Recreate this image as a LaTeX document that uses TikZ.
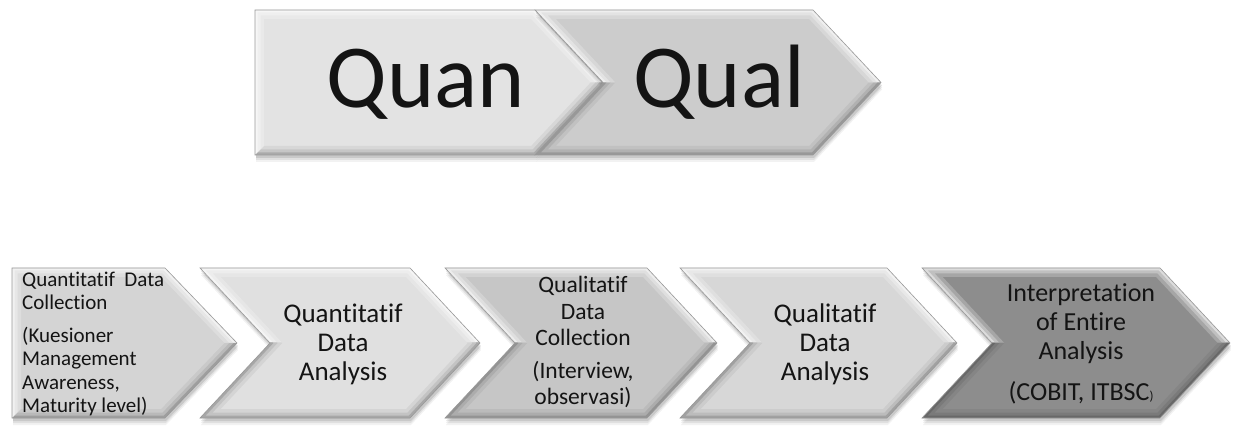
\documentclass[tikz,border=0pt]{standalone}
\usepackage{fontspec}
\setmainfont[Ligatures={NoCommon}]{Carlito}
\definecolor{cQuan}{HTML}{E3E3E3}
\definecolor{cQual}{HTML}{CCCCCC}
\definecolor{cStepA}{HTML}{D4D4D4}
\definecolor{cStepB}{HTML}{E0E0E0}
\definecolor{cStepC}{HTML}{C6C6C6}
\definecolor{cStepD}{HTML}{D7D7D7}
\definecolor{cStepE}{HTML}{8D8D8D}
% #1 = closed outline, #2 = face colour,
% #3 = region lit from above, #4 = region in shade
\newcommand\bevelchevron[4]{%
  % soft drop shadow
  \foreach \dy/\op in {7/0.05,5/0.07,3/0.10}{\fill[black,opacity=\op,shift={(1,\dy)}] #1;}
  \fill[#2] #1;
  \begin{scope}
    \clip #1;
    % light bevel
    \begin{scope}
      \clip #3;
      \foreach \w/\op in {18/0.22,11/0.30,5/0.45}{\draw[white,line width=\w,opacity=\op,line join=miter] #1;}
    \end{scope}
    % dark bevel
    \begin{scope}
      \clip #4;
      \foreach \w/\op in {18/0.05,11/0.08,5/0.14}{\draw[black,line width=\w,opacity=\op,line join=miter] #1;}
    \end{scope}
  \end{scope}
  \draw[black!40,line width=0.6,line join=miter] #1;
}
\begin{document}
\begin{tikzpicture}[x=1pt,y=-1pt,
  txt/.style={inner sep=0pt,anchor=base,text=black!92},
  bigtxt/.style={txt,font=\fontsize{90}{90}\selectfont},
  txtA/.style={txt,anchor=base west,font=\fontsize{21}{21}\selectfont},
  txtB/.style={txt,font=\fontsize{27}{27}\selectfont},
  txtC/.style={txt,font=\fontsize{23.5}{23.5}\selectfont},
  txtE/.style={txt,font=\fontsize{26}{26}\selectfont}]
\useasboundingbox[fill=white] (0,0) rectangle (1234,427);

% upper pair of arrows
\bevelchevron{(255,10) -- (535,10) -- (603,82.5) -- (535,155) -- (255,155) -- cycle}{cQuan}
  {(0,0) -- (1234,0) -- (1234,82.5) -- (275,82.5) -- (275,135) -- (255,155) -- (245,165) -- (0,165) -- cycle}
  {(275,82.5) -- (1234,82.5) -- (1234,200) -- (210,200) -- (255,155) -- (275,135) -- cycle}
\bevelchevron{(535,10) -- (813,10) -- (881,82.5) -- (813,155) -- (535,155) -- (603,82.5) -- cycle}{cQual}
  {(0,0) rectangle (1234,82.5)}
  {(0,82.5) rectangle (1234,200)}
\node[bigtxt] (quan) at (426,108) {Quan};
\node[bigtxt] (qual) at (719,108) {Qual};

% lower chain of five steps
\bevelchevron{(12,268) -- (165,268) -- (237,343) -- (165,418) -- (12,418) -- cycle}{cStepA}
  {(0,250) -- (1234,250) -- (1234,343) -- (32,343) -- (32,398) -- (12,418) -- (0,430) -- cycle}
  {(32,343) -- (1234,343) -- (1234,427) -- (3,427) -- (12,418) -- (32,398) -- cycle}
\bevelchevron{(200,268) -- (410,268) -- (480,343) -- (410,418) -- (200,418) -- (270,343) -- cycle}{cStepB}
  {(0,250) rectangle (1234,343)}
  {(0,343) rectangle (1234,427)}
\bevelchevron{(445,268) -- (647,268) -- (717,343) -- (647,418) -- (445,418) -- (515,343) -- cycle}{cStepC}
  {(0,250) rectangle (1234,343)}
  {(0,343) rectangle (1234,427)}
\bevelchevron{(680,268) -- (887,268) -- (957,343) -- (887,418) -- (680,418) -- (750,343) -- cycle}{cStepD}
  {(0,250) rectangle (1234,343)}
  {(0,343) rectangle (1234,427)}
\bevelchevron{(922,268) -- (1160,268) -- (1230,343) -- (1160,418) -- (922,418) -- (992,343) -- cycle}{cStepE}
  {(0,250) rectangle (1234,343)}
  {(0,343) rectangle (1234,427)}

% step 1
\node[txtA] (a1) at (22,287) {Quantitatif\ \ Data};
\node[txtA] (a2) at (22,310) {Collection};
\node[txtA] (a3) at (22,343) {(Kuesioner};
\node[txtA] (a4) at (22,366) {Management};
\node[txtA] (a5) at (22,389) {Awareness,};
\node[txtA] (a6) at (22,412) {Maturity level)};

% step 2
\node[txtB] (b1) at (343,323) {Quantitatif};
\node[txtB] (b2) at (343,352) {Data};
\node[txtB] (b3) at (343,381) {Analysis};

% step 3
\node[txtC] (c1) at (583,293) {Qualitatif};
\node[txtC] (c2) at (583,320) {Data};
\node[txtC] (c3) at (583,346) {Collection};
\node[txtC] (c4) at (583,378) {(Interview,};
\node[txtC] (c5) at (583,404) {observasi)};

% step 4
\node[txtB] (d1) at (825,323) {Qualitatif};
\node[txtB] (d2) at (825,352) {Data};
\node[txtB] (d3) at (825,381) {Analysis};

% step 5
\node[txtE] (e1) at (1081,302) {Interpretation};
\node[txtE] (e2) at (1081,331) {of Entire};
\node[txtE] (e3) at (1081,360) {Analysis};
\node[txtE] (e4) at (1081,400) {(COBIT, ITBSC{\fontsize{13}{13}\selectfont )}};
\end{tikzpicture}
\end{document}
